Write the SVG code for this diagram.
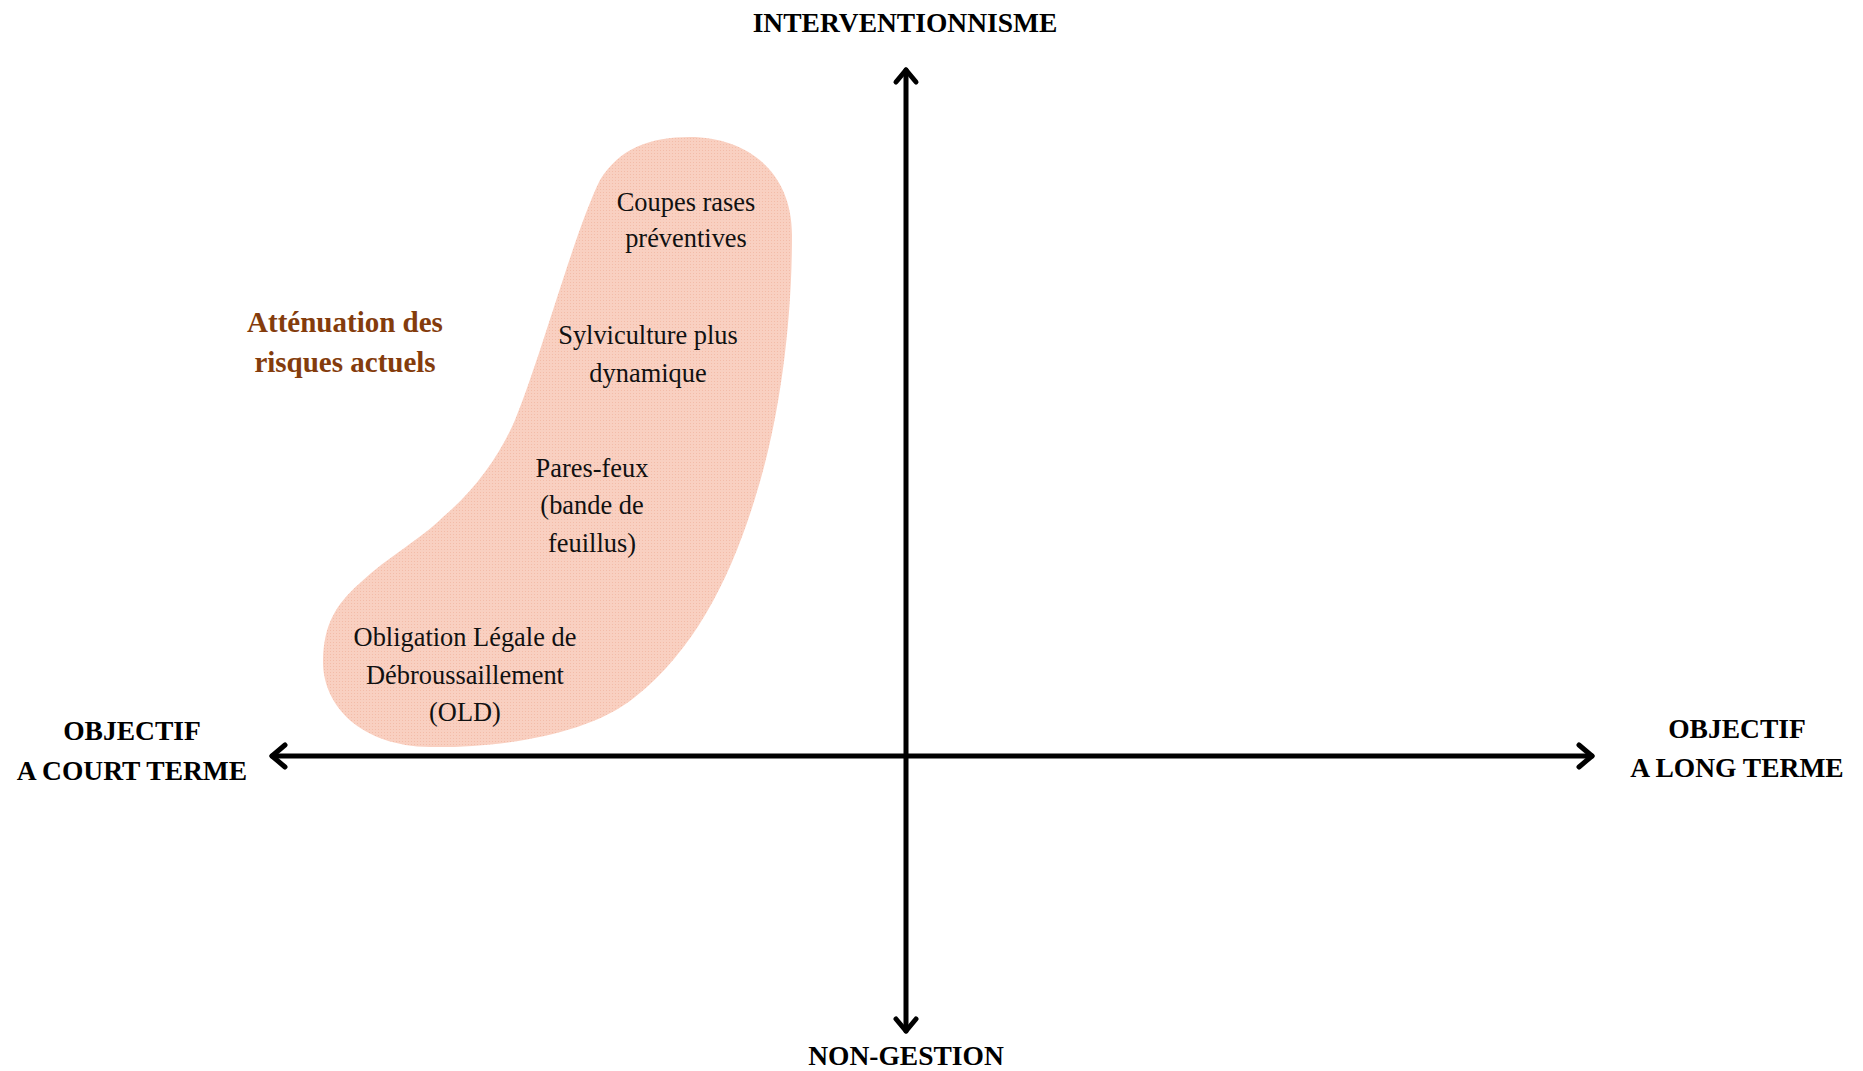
<svg xmlns="http://www.w3.org/2000/svg" width="1863" height="1071" viewBox="0 0 1863 1071">
<style>
.axis{stroke:#000;stroke-width:5;fill:none;stroke-linecap:round;stroke-linejoin:round}
.ax{font-family:"Liberation Serif","Times New Roman",serif;font-weight:bold;font-size:27.5px;fill:#000;text-anchor:middle}
.lbl{font-family:"Liberation Serif","Times New Roman",serif;font-size:26.4px;fill:#111;text-anchor:middle}
.zone{font-family:"Liberation Serif","Times New Roman",serif;font-weight:bold;font-size:29px;fill:#843C0C;text-anchor:middle}
</style>
<defs>
<pattern id="dots" width="3" height="3" patternUnits="userSpaceOnUse">
<rect width="3" height="3" fill="#F9D0C1"/>
<rect width="1" height="1" fill="#F3BCA8"/>
</pattern>
</defs>
<rect width="1863" height="1071" fill="#fff"/>
<g id="zone">
<path d="M690,137 C745,137 792,170 792,235 C792,330 778,425 756,495 C732,575 695,650 635,697 C585,738 490,748 430,747 C360,746 322,705 323,660 C324,625 335,605 360,583 C390,555 420,540 443,517 C475,490 500,455 515,420 C540,360 575,230 600,180 C620,148 650,137 690,137 Z" fill="url(#dots)"/>
<text class="zone" x="345" y="332">Atténuation des</text>
<text class="zone" x="345" y="372">risques actuels</text>
</g>
<g id="connectors">
<line class="axis" x1="906" y1="70" x2="906" y2="1031"/>
<polyline class="axis" points="896,82 906,70 916,82"/>
<polyline class="axis" points="896,1019 906,1031 916,1019"/>
<line class="axis" x1="272" y1="756" x2="1592" y2="756"/>
<polyline class="axis" points="285,745 272,756 285,767"/>
<polyline class="axis" points="1579,745 1592,756 1579,767"/>
</g>
<g id="axis-top"><text class="ax" x="905" y="32">INTERVENTIONNISME</text></g>
<g id="axis-bottom"><text class="ax" x="906" y="1065">NON-GESTION</text></g>
<g id="axis-left"><text class="ax" x="132" y="740">OBJECTIF</text><text class="ax" x="132" y="780">A COURT TERME</text></g>
<g id="axis-right"><text class="ax" x="1737" y="738">OBJECTIF</text><text class="ax" x="1737" y="777">A LONG TERME</text></g>
<g id="n1"><text class="lbl" x="686" y="211">Coupes rases</text><text class="lbl" x="686" y="247">préventives</text></g>
<g id="n2"><text class="lbl" x="648" y="344">Sylviculture plus</text><text class="lbl" x="648" y="382">dynamique</text></g>
<g id="n3"><text class="lbl" x="592" y="477">Pares-feux</text><text class="lbl" x="592" y="514">(bande de</text><text class="lbl" x="592" y="552">feuillus)</text></g>
<g id="n4"><text class="lbl" x="465" y="646">Obligation Légale de</text><text class="lbl" x="465" y="684">Débroussaillement</text><text class="lbl" x="465" y="721">(OLD)</text></g>
</svg>
